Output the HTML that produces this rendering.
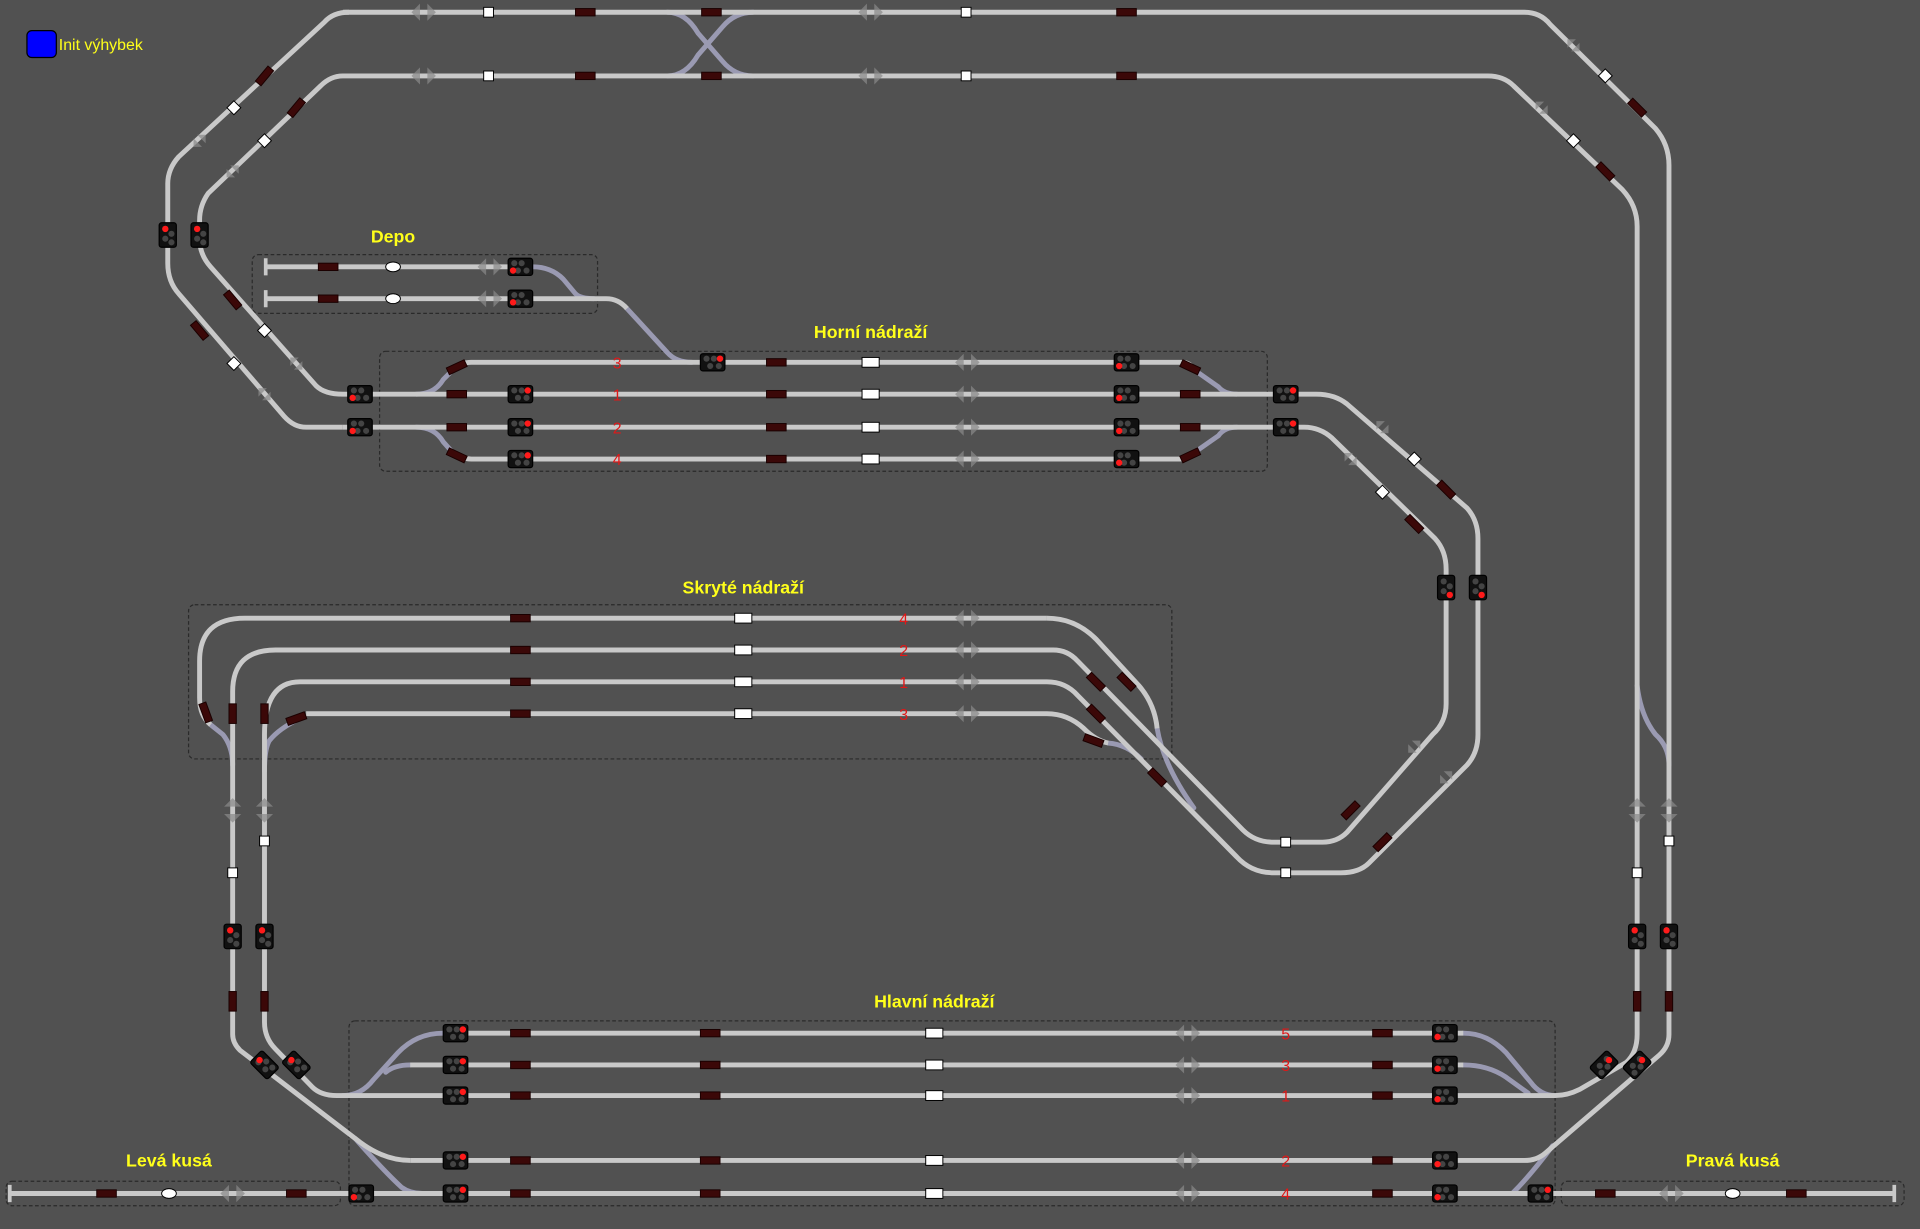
<!DOCTYPE html>
<html><head><meta charset="utf-8"><style>
html,body{margin:0;padding:0;background:#515151;}
svg{display:block}
text{font-family:"Liberation Sans",sans-serif;}
</style></head><body>
<svg width="1920" height="1229" viewBox="0 0 1568 1004" preserveAspectRatio="none" xmlns="http://www.w3.org/2000/svg">
<defs>
<g id="sh"><rect x="-10" y="-7" width="20" height="14" rx="2" fill="#111" stroke="#000"/><circle cx="-5" cy="-3" r="2.5" fill="#444"/><circle cx="1" cy="-3" r="2.5" fill="#444"/><circle cx="-2" cy="3" r="2.5" fill="#444"/><circle cx="5" cy="3" r="2.5" fill="#444"/></g>
<g id="sv"><rect x="-7" y="-10" width="14" height="20" rx="2" fill="#111" stroke="#000"/><circle cx="-2" cy="-5" r="2.5" fill="#444"/><circle cx="3" cy="-1" r="2.5" fill="#444"/><circle cx="-2" cy="3" r="2.5" fill="#444"/><circle cx="3" cy="6" r="2.5" fill="#444"/></g>
<rect id="db" x="-8" y="-3" width="16" height="6" fill="#3b0808" stroke="#1a0000" stroke-width="0.8"/>
<rect id="ws" x="-4" y="-4" width="8" height="8" fill="#fff" stroke="#000" stroke-width="0.8"/>
<rect id="wr" x="-7" y="-4" width="14" height="8" fill="#fff" stroke="#000" stroke-width="0.8"/>
<g id="ar" fill="#8a8a8a" opacity="0.7"><polygon points="-10,0 -3,-7 -3,7"/><polygon points="10,0 3,-7 3,7"/></g>
</defs>
<rect width="1568" height="1004" fill="#515151"/>

<g fill="none" stroke="#2a2a2a" stroke-dasharray="3,2" stroke-width="1">
<rect x="206" y="208" width="282" height="48" rx="5"/>
<rect x="310" y="287" width="725" height="98" rx="5"/>
<rect x="154" y="494" width="803" height="126" rx="5"/>
<rect x="285" y="834" width="985" height="151" rx="5"/>
<rect x="5" y="965" width="273" height="20" rx="5"/>
<rect x="1275" y="965" width="280" height="20" rx="5"/>
</g>

<g fill="none" stroke="#9a9ab2" stroke-width="4" stroke-linecap="round">
<path d="M545,62 Q560,62 570,45 L590,22 Q600,10 615,10"/>
<path d="M545,10 Q560,10 570,27 L590,50 Q600,62 615,62"/>
<path d="M435,218 Q450,218 460,228 L470,240 Q474,244 485,244"/>
<path d="M512,252 L545,288 Q552,296 565,296"/>
<path d="M340,322 Q355,322 362,310 L370,302"/>
<path d="M340,349 Q355,349 362,361 L370,370"/>
<path d="M975,302 L995,316 Q1000,322 1010,322"/>
<path d="M975,370 L995,356 Q1000,349 1010,349"/>
<path d="M945,595 Q950,625 975,660"/>
<path d="M905,607 Q920,608 932,620"/>
<path d="M172,592 L182,600 Q190,610 190,625"/>
<path d="M245,587 Q228,595 220,605 Q216,612 216,630"/>
<path d="M1337,560 Q1340,585 1352,600 Q1363,610 1363,625"/>
<path d="M362,844 Q340,844 325,860 L305,882 Q295,895 280,895"/>
<path d="M335,870 Q322,870 315,876"/>
<path d="M1195,844 Q1215,844 1230,860 L1250,884 Q1258,895 1270,895"/>
<path d="M1195,870 Q1215,870 1230,880 L1248,893"/>
<path d="M290,930 Q312,955 328,970 Q335,975 345,975"/>
<path d="M1268,936 Q1250,960 1235,975"/>
</g>

<g fill="none" stroke="#c9c9c9" stroke-width="4">
<path d="M280,10 H1245 Q1258,10 1266,20 L1352,105 Q1363,118 1363,135 V845 Q1363,855 1355,862 L1262,942 Q1255,948 1245,948 H335"/>
<path d="M280,62 H1215 Q1228,62 1236,70 L1325,155 Q1337,168 1337,185 V845 Q1337,860 1328,868 L1290,890 Q1280,895 1270,895 H275 Q262,895 255,888 L225,857 Q216,848 216,835 V600 Q216,557 245,557 H855 Q870,557 880,568 L1010,700 Q1022,713 1040,713 H1095 Q1110,713 1118,705 L1198,625 Q1207,615 1207,600 V440 Q1207,425 1198,415 L1100,330 Q1090,322 1075,322 H280 Q265,322 258,315 L172,218 Q163,208 163,195 V180 Q163,168 170,158 L262,70 Q270,62 280,62"/>
<path d="M1040,349 H1065 Q1078,349 1088,358 L1172,440 Q1181,450 1181,465 V575 Q1181,590 1170,600 L1100,680 Q1092,688 1080,688 H1040 Q1025,688 1015,678 L880,540 Q872,531 860,531 H225 Q190,531 190,565 V845 Q190,852 196,858 L290,930 Q312,948 335,948"/>
<path d="M280,349 H1040"/>
<path d="M280,349 H250 Q240,349 232,340 L146,240 Q137,230 137,215 V150 Q137,138 146,128 L265,18 Q272,10 285,10"/>
<path d="M370,302 Q376,296 385,296 H965 Q972,296 975,302"/>
<path d="M370,370 Q376,375 385,375 H965 Q972,375 975,370"/>
<path d="M217,218 H435"/>
<path d="M217,244 H495 Q505,244 512,252"/>
<path d="M855,505 H200 Q163,505 163,540 V570 Q163,585 172,592"/>
<path d="M855,505 Q878,505 895,522 L930,560 Q943,575 945,595"/>
<path d="M250,583 H855 Q872,583 885,595 Q895,605 905,607"/>
<path d="M362,844 H1195"/>
<path d="M335,870 H1195"/>
<path d="M8,975 H1547"/>
<path d="M217,211 V225 M217,237 V251 M1547,968 V982 M8,968 V982" stroke-width="3"/>
</g>

<use href="#ar" x="346" y="10"/><use href="#ar" x="346" y="62"/><use href="#ar" x="711" y="10"/><use href="#ar" x="711" y="62"/>
<use href="#ar" x="400" y="218"/><use href="#ar" x="400" y="244"/>
<use href="#ar" x="790" y="296"/><use href="#ar" x="790" y="322"/><use href="#ar" x="790" y="349"/><use href="#ar" x="790" y="375"/>
<use href="#ar" x="790" y="505"/><use href="#ar" x="790" y="531"/><use href="#ar" x="790" y="557"/><use href="#ar" x="790" y="583"/>
<use href="#ar" x="970" y="844"/><use href="#ar" x="970" y="870"/><use href="#ar" x="970" y="895"/><use href="#ar" x="970" y="948"/><use href="#ar" x="970" y="975"/>
<use href="#ar" x="190" y="975"/><use href="#ar" x="1365" y="975"/>
<use href="#ar" transform="translate(190,662) rotate(90)"/><use href="#ar" transform="translate(216,662) rotate(90)"/>
<use href="#ar" transform="translate(1337,662) rotate(90)"/><use href="#ar" transform="translate(1363,662) rotate(90)"/>
<use href="#ar" transform="translate(163,115) rotate(-45) scale(.7)"/><use href="#ar" transform="translate(190,140) rotate(-45) scale(.7)"/>
<use href="#ar" transform="translate(242,297) rotate(45) scale(.7)"/><use href="#ar" transform="translate(216,322) rotate(45) scale(.7)"/>
<use href="#ar" transform="translate(1285,37) rotate(45) scale(.7)"/><use href="#ar" transform="translate(1259,88) rotate(45) scale(.7)"/>
<use href="#ar" transform="translate(1129,349) rotate(45) scale(.7)"/><use href="#ar" transform="translate(1103,375) rotate(45) scale(.7)"/>
<use href="#ar" transform="translate(1155,610) rotate(-45) scale(.7)"/><use href="#ar" transform="translate(1181,635) rotate(-45) scale(.7)"/>

<g>
<use href="#db" x="478" y="10"/><use href="#db" x="581" y="10"/><use href="#db" x="920" y="10"/>
<use href="#db" x="478" y="62"/><use href="#db" x="581" y="62"/><use href="#db" x="920" y="62"/>
<use href="#db" x="268" y="218"/><use href="#db" x="268" y="244"/>
<use href="#db" x="634" y="296"/><use href="#db" x="634" y="322"/><use href="#db" x="634" y="349"/><use href="#db" x="634" y="375"/>
<use href="#db" x="373" y="322"/><use href="#db" x="373" y="349"/><use href="#db" x="972" y="322"/><use href="#db" x="972" y="349"/>
<use href="#db" transform="translate(373,300) rotate(-25)"/><use href="#db" transform="translate(373,372) rotate(25)"/>
<use href="#db" transform="translate(972,300) rotate(25)"/><use href="#db" transform="translate(972,372) rotate(-25)"/>
<use href="#db" x="425" y="505"/><use href="#db" x="425" y="531"/><use href="#db" x="425" y="557"/><use href="#db" x="425" y="583"/>
<use href="#db" x="425" y="844"/><use href="#db" x="425" y="870"/><use href="#db" x="425" y="895"/><use href="#db" x="425" y="948"/><use href="#db" x="425" y="975"/>
<use href="#db" x="580" y="844"/><use href="#db" x="580" y="870"/><use href="#db" x="580" y="895"/><use href="#db" x="580" y="948"/><use href="#db" x="580" y="975"/>
<use href="#db" x="1129" y="844"/><use href="#db" x="1129" y="870"/><use href="#db" x="1129" y="895"/><use href="#db" x="1129" y="948"/><use href="#db" x="1129" y="975"/>
<use href="#db" x="87" y="975"/><use href="#db" x="242" y="975"/><use href="#db" x="1311" y="975"/><use href="#db" x="1467" y="975"/>
<use href="#db" transform="translate(216,62) rotate(-50)"/><use href="#db" transform="translate(242,88) rotate(-50)"/>
<use href="#db" transform="translate(163,270) rotate(50)"/><use href="#db" transform="translate(190,245) rotate(50)"/>
<use href="#db" transform="translate(1337,88) rotate(45)"/><use href="#db" transform="translate(1311,140) rotate(45)"/>
<use href="#db" transform="translate(1181,400) rotate(45)"/><use href="#db" transform="translate(1155,428) rotate(45)"/>
<use href="#db" transform="translate(1103,662) rotate(-45)"/><use href="#db" transform="translate(1129,688) rotate(-45)"/>
<use href="#db" transform="translate(895,557) rotate(45)"/><use href="#db" transform="translate(920,557) rotate(45)"/>
<use href="#db" transform="translate(895,583) rotate(45)"/><use href="#db" transform="translate(893,605) rotate(20)"/>
<use href="#db" transform="translate(945,635) rotate(45)"/>
<use href="#db" transform="translate(168,582) rotate(70)"/><use href="#db" transform="translate(242,587) rotate(-20)"/>
<use href="#db" transform="translate(190,583) rotate(90)"/><use href="#db" transform="translate(216,583) rotate(90)"/>
<use href="#db" transform="translate(190,818) rotate(90)"/><use href="#db" transform="translate(216,818) rotate(90)"/>
<use href="#db" transform="translate(1337,818) rotate(90)"/><use href="#db" transform="translate(1363,818) rotate(90)"/>
</g>

<use href="#ws" x="399" y="10"/><use href="#ws" x="399" y="62"/><use href="#ws" x="789" y="10"/><use href="#ws" x="789" y="62"/>
<use href="#ws" x="216" y="687"/><use href="#ws" x="190" y="713"/><use href="#ws" x="1337" y="713"/><use href="#ws" x="1363" y="687"/>
<use href="#ws" x="1050" y="688"/><use href="#ws" x="1050" y="713"/>
<use href="#ws" transform="translate(191,88) rotate(45)"/><use href="#ws" transform="translate(216,115) rotate(45)"/>
<use href="#ws" transform="translate(216,270) rotate(45)"/><use href="#ws" transform="translate(191,297) rotate(45)"/>
<use href="#ws" transform="translate(1311,62) rotate(45)"/><use href="#ws" transform="translate(1285,115) rotate(45)"/>
<use href="#ws" transform="translate(1155,375) rotate(45)"/><use href="#ws" transform="translate(1129,402) rotate(45)"/>
<g>
<use href="#wr" x="711" y="296"/><use href="#wr" x="711" y="322"/><use href="#wr" x="711" y="349"/><use href="#wr" x="711" y="375"/>
<use href="#wr" x="607" y="505"/><use href="#wr" x="607" y="531"/><use href="#wr" x="607" y="557"/><use href="#wr" x="607" y="583"/>
<use href="#wr" x="763" y="844"/><use href="#wr" x="763" y="870"/><use href="#wr" x="763" y="895"/><use href="#wr" x="763" y="948"/><use href="#wr" x="763" y="975"/>
</g>
<g fill="#fff" stroke="#000" stroke-width="0.8">
<ellipse cx="321" cy="218" rx="6" ry="4"/><ellipse cx="321" cy="244" rx="6" ry="4"/>
<ellipse cx="138" cy="975" rx="6" ry="4"/><ellipse cx="1415" cy="975" rx="6" ry="4"/>
</g>

<g>
<use href="#sh" x="425" y="218"/><use href="#sh" x="425" y="244"/>
<use href="#sh" x="294" y="322"/><use href="#sh" x="294" y="349"/>
<use href="#sh" x="582" y="296"/><use href="#sh" x="425" y="322"/><use href="#sh" x="425" y="349"/><use href="#sh" x="425" y="375"/>
<use href="#sh" x="920" y="296"/><use href="#sh" x="920" y="322"/><use href="#sh" x="920" y="349"/><use href="#sh" x="920" y="375"/>
<use href="#sh" x="1050" y="322"/><use href="#sh" x="1050" y="349"/>
<use href="#sh" x="372" y="844"/><use href="#sh" x="372" y="870"/><use href="#sh" x="372" y="895"/><use href="#sh" x="372" y="948"/><use href="#sh" x="372" y="975"/>
<use href="#sh" x="1180" y="844"/><use href="#sh" x="1180" y="870"/><use href="#sh" x="1180" y="895"/><use href="#sh" x="1180" y="948"/><use href="#sh" x="1180" y="975"/>
<use href="#sh" x="295" y="975"/><use href="#sh" x="1258" y="975"/>
<use href="#sv" x="137" y="192"/><use href="#sv" x="163" y="192"/>
<use href="#sv" x="1181" y="480"/><use href="#sv" x="1207" y="480"/>
<use href="#sv" x="190" y="765"/><use href="#sv" x="216" y="765"/>
<use href="#sv" x="1337" y="765"/><use href="#sv" x="1363" y="765"/>
<use href="#sv" transform="translate(216,870) rotate(-45)"/><use href="#sv" transform="translate(242,870) rotate(-45)"/>
<use href="#sv" transform="translate(1310,870) rotate(45)"/><use href="#sv" transform="translate(1337,870) rotate(45)"/>
</g>
<g fill="#ff1a1a">
<circle cx="419" cy="221" r="2.6"/><circle cx="419" cy="247" r="2.6"/>
<circle cx="288" cy="325" r="2.6"/><circle cx="288" cy="352" r="2.6"/>
<circle cx="588" cy="293" r="2.6"/><circle cx="431" cy="319" r="2.6"/><circle cx="431" cy="346" r="2.6"/><circle cx="431" cy="372" r="2.6"/>
<circle cx="914" cy="299" r="2.6"/><circle cx="914" cy="325" r="2.6"/><circle cx="914" cy="352" r="2.6"/><circle cx="914" cy="378" r="2.6"/>
<circle cx="1056" cy="319" r="2.6"/><circle cx="1056" cy="346" r="2.6"/>
<circle cx="378" cy="841" r="2.6"/><circle cx="378" cy="867" r="2.6"/><circle cx="378" cy="892" r="2.6"/><circle cx="378" cy="945" r="2.6"/><circle cx="378" cy="972" r="2.6"/>
<circle cx="1174" cy="847" r="2.6"/><circle cx="1174" cy="873" r="2.6"/><circle cx="1174" cy="898" r="2.6"/><circle cx="1174" cy="951" r="2.6"/><circle cx="1174" cy="978" r="2.6"/>
<circle cx="289" cy="978" r="2.6"/><circle cx="1264" cy="972" r="2.6"/>
<circle cx="135" cy="187" r="2.6"/><circle cx="161" cy="187" r="2.6"/>
<circle cx="1184" cy="486" r="2.6"/><circle cx="1210" cy="486" r="2.6"/>
<circle cx="188" cy="760" r="2.6"/><circle cx="214" cy="760" r="2.6"/>
<circle cx="1335" cy="760" r="2.6"/><circle cx="1361" cy="760" r="2.6"/>
<circle cx="212" cy="866" r="2.6"/><circle cx="238" cy="866" r="2.6"/>
<circle cx="1314" cy="866" r="2.6"/><circle cx="1341" cy="866" r="2.6"/>
</g>

<g fill="#e01818" font-size="13" text-anchor="middle">
<text x="504" y="301">3</text><text x="504" y="327">1</text><text x="504" y="354">2</text><text x="504" y="380">4</text>
<text x="738" y="510">4</text><text x="738" y="536">2</text><text x="738" y="562">1</text><text x="738" y="588">3</text>
<text x="1050" y="849">5</text><text x="1050" y="875">3</text><text x="1050" y="900">1</text><text x="1050" y="953">2</text><text x="1050" y="980">4</text>
</g>

<g fill="#ffff1a" font-size="14.5" font-weight="bold" text-anchor="middle">
<text x="321" y="198">Depo</text>
<text x="711" y="276">Horní nádraží</text>
<text x="607" y="485">Skryté nádraží</text>
<text x="763" y="823">Hlavní nádraží</text>
<text x="138" y="953">Levá kusá</text>
<text x="1415" y="953">Pravá kusá</text>
</g>
<rect x="22" y="25" width="24" height="22" rx="4" fill="#0000ff" stroke="#000"/>
<text x="48" y="41" fill="#ffff1a" font-size="13">Init výhybek</text>
</svg>
</body></html>
